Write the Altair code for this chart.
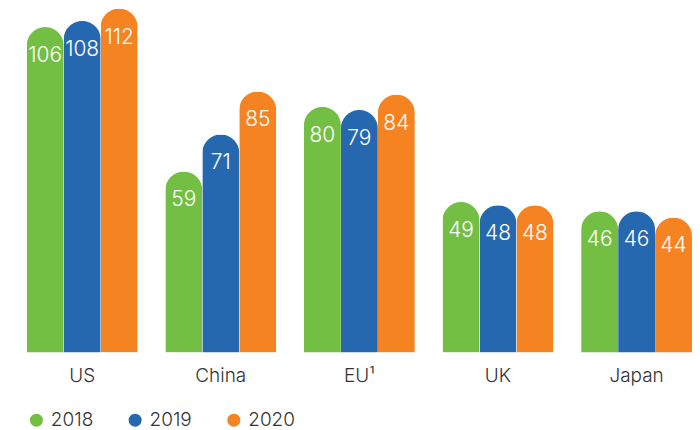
import altair as alt
import pandas as pd

countries = ["US", "China", "EU¹", "UK", "Japan"]
years = ["2018", "2019", "2020"]
v2018 = [106, 59, 80, 49, 46]
v2019 = [108, 71, 79, 48, 46]
v2020 = [112, 85, 84, 48, 44]
colors = ["#72BF44", "#2668B0", "#F58322"]

FONT = "Inter"

rows = []
for i, c in enumerate(countries):
    for y, vals in zip(years, [v2018, v2019, v2020]):
        rows.append({"country": c, "year": y, "value": vals[i]})
df = pd.DataFrame(rows)

x = alt.X("country:N", sort=countries, title=None,
          scale=alt.Scale(paddingInner=0.2, paddingOuter=0.0676, align=1),
          axis=alt.Axis(labelAngle=0, domain=False, ticks=False, labelPadding=14,
                        labelFontSize=19, labelColor="#333333", labelFont=FONT,
                        labelFontWeight=300))
xo = alt.XOffset("year:N", sort=years, scale=alt.Scale(paddingInner=0, paddingOuter=0))
y = alt.Y("value:Q", scale=alt.Scale(domain=[0, 112], nice=False), axis=None)

bars = alt.Chart(df).mark_bar(cornerRadiusTopLeft=18.5, cornerRadiusTopRight=18.5).encode(
    x=x, xOffset=xo, y=y,
    color=alt.Color("year:N", sort=years,
                    scale=alt.Scale(domain=years, range=colors),
                    legend=alt.Legend(title=None, orient="none", direction="horizontal",
                                      legendX=19, legendY=403, symbolType="circle",
                                      symbolSize=170, symbolStrokeWidth=0, symbolOpacity=1,
                                      labelFontSize=19, labelColor="#333333", labelFont=FONT,
                                      labelFontWeight=300,
                                      labelOffset=5, columnPadding=32, padding=0))
)

labels = alt.Chart(df).mark_text(dy=29, baseline="middle", align="center", color="white",
                                 fontSize=21, font=FONT, fontWeight=300).encode(
    x=x, xOffset=xo, y=y, text="value:Q"
)

chart = (bars + labels).properties(width=686, height=345, padding=0).configure_view(stroke=None)
chart.save("out.html", embed_options={"renderer": "svg", "actions": False})
